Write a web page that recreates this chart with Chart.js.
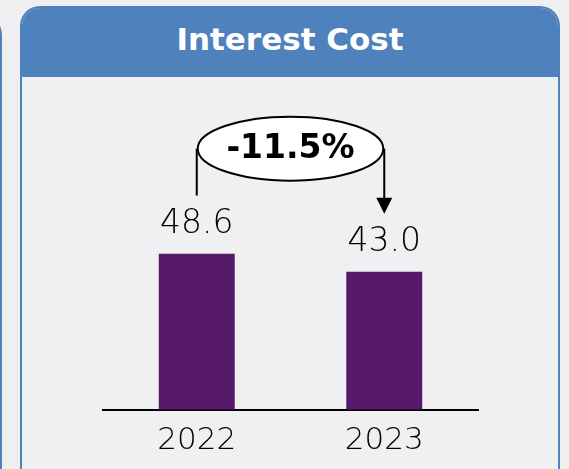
<!DOCTYPE html>
<html>
<head>
<meta charset="utf-8">
<script src="https://cdn.jsdelivr.net/npm/chart.js@4.4.0/dist/chart.umd.min.js"></script>
<style>
html, body { margin: 0; padding: 0; width: 569px; height: 469px; overflow: hidden; background: #efeff1; }
.panel { position: absolute; box-sizing: border-box; border: 2px solid #4f81bd; border-bottom: none;
         border-radius: 20px 20px 0 0; background: #f0f0f2; overflow: hidden; }
.panel .head { background: #4f81bd; color: #fff; text-align: center; font: bold 31px "DejaVu Sans"; }
#prev { left: -558px; top: 15px; width: 560px; height: 480px; }
#prev .head { height: 58px; }
#main { left: 20px; top: 6px; width: 540px; height: 480px; }
#main .head { height: 69px; line-height: 63px; }
canvas { position: absolute; left: 0; top: 0; }
</style>
</head>
<body>
<div class="panel" id="prev"><div class="head"></div></div>
<div class="panel" id="main"><div class="head">Interest Cost</div></div>
<canvas id="myChart" width="569" height="480"></canvas>
<script>
const categories = ['2022', '2023'];
const interestCost = [48.6, 43.0];
const changeLabel = '-11.5%';

// value labels + the % change bubble with its arrow
const barNotes = {
    id: 'barNotes',
    afterDatasetsDraw(chart) {
        const ctx = chart.ctx;
        const bars = chart.getDatasetMeta(0).data;
        ctx.save();
        ctx.fillStyle = '#000';
        ctx.textAlign = 'center';
        ctx.textBaseline = 'middle';
        ctx.font = '200 33px "DejaVu Sans"';
        const labelY = bars.map(b => b.y - 29);
        bars.forEach((b, i) => ctx.fillText(interestCost[i].toFixed(1), b.x, labelY[i]));

        const x1 = bars[0].x, x2 = bars[1].x;
        const lineBottom = labelY[0] - 29;
        const tipY = labelY[1] - 29;
        const cy = lineBottom - 47;
        const cx = (x1 + x2) / 2;
        ctx.strokeStyle = '#000';
        ctx.lineWidth = 2;
        ctx.beginPath(); ctx.moveTo(x1, lineBottom); ctx.lineTo(x1, cy); ctx.stroke();
        ctx.beginPath(); ctx.moveTo(x2, cy); ctx.lineTo(x2, tipY - 14); ctx.stroke();
        ctx.beginPath();
        ctx.moveTo(x2 - 8, tipY - 16); ctx.lineTo(x2 + 8, tipY - 16); ctx.lineTo(x2, tipY);
        ctx.closePath(); ctx.fill();

        ctx.beginPath();
        ctx.ellipse(cx, cy, (x2 - x1) / 2 - 1, 32, 0, 0, Math.PI * 2);
        ctx.fillStyle = '#fff';
        ctx.fill();
        ctx.stroke();
        ctx.fillStyle = '#000';
        ctx.font = 'bold 33px "DejaVu Sans"';
        ctx.fillText(changeLabel, cx, cy + 1);
        ctx.restore();
    }
};

new Chart('myChart', {
    type: 'bar',
    data: {
        labels: categories,
        datasets: [{
            data: interestCost,
            backgroundColor: '#561868',
            barPercentage: 0.81,
            categoryPercentage: 0.5
        }]
    },
    options: {
        responsive: false,
        animation: false,
        layout: { padding: { left: 103, right: 91, top: 217, bottom: 7 } },
        plugins: { legend: { display: false }, tooltip: { enabled: false } },
        scales: {
            x: {
                grid: { display: false, drawTicks: false },
                border: { display: true, color: '#000', width: 2 },
                ticks: { color: '#000', padding: 13, font: { family: 'DejaVu Sans', size: 31, weight: '200' } }
            },
            y: { display: false, min: 0, max: 60 }
        }
    },
    plugins: [barNotes]
});
</script>
</body>
</html>
